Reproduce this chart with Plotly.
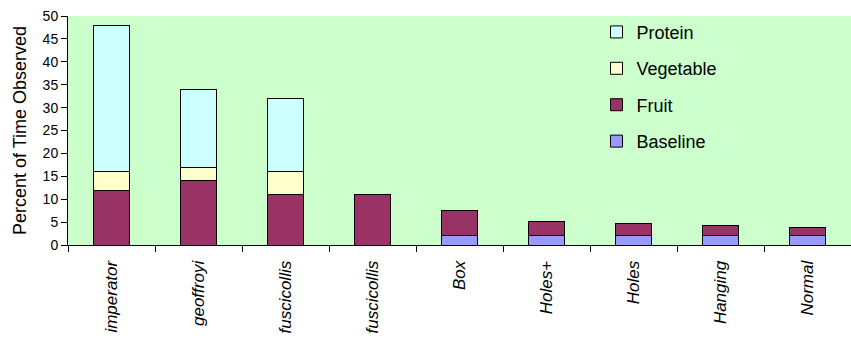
import plotly.graph_objects as go

categories = ["imperator", "geoffroyi", "fuscicollis", "fuscicollis", "Box", "Holes+", "Holes", "Hanging", "Normal"]
baseline = [0, 0, 0, 0, 2, 2, 2, 2, 2]
fruit = [12, 14, 11, 11, 5.6, 3.2, 2.6, 2.3, 1.9]
vegetable = [4, 3, 5, 0, 0, 0, 0, 0, 0]
protein = [32, 17, 16, 0, 0, 0, 0, 0, 0]
y_ticks = [0, 5, 10, 15, 20, 25, 30, 35, 40, 45, 50]

series = [("Baseline", baseline, "#9999FF", 4), ("Fruit", fruit, "#993366", 3),
          ("Vegetable", vegetable, "#FFFFCC", 2), ("Protein", protein, "#CCFFFF", 1)]

xs = list(range(len(categories)))
fig = go.Figure()
for name, vals, col, rank in series:
    fig.add_trace(go.Bar(x=xs, y=vals, name=name, legendgroup=name, legendrank=rank,
                         marker=dict(color=col, line=dict(color="black", width=1))))

FONT = "Liberation Sans, Arial, sans-serif"
fig.update_layout(
    width=851, height=347,
    margin=dict(l=68, r=0, t=16, b=102),
    barmode="stack", bargap=0.58,
    plot_bgcolor="#CCFFCC", paper_bgcolor="white",
    font=dict(family=FONT, color="black", size=14),
    legend=dict(x=0.675, y=1.01, xanchor="left", yanchor="top",
                traceorder="grouped", tracegroupgap=10,
                bgcolor="rgba(0,0,0,0)", font=dict(size=18)),
    xaxis=dict(range=[-0.5, len(categories) - 0.5], tickmode="array", tickvals=xs,
               ticktext=["<i>%s</i>" % c for c in categories], tickangle=-90,
               ticks="", showgrid=False, zeroline=False,
               showline=True, linecolor="black", linewidth=1,
               tickfont=dict(size=17), ticklabelstandoff=8,
               minor=dict(ticks="outside", tick0=-0.5, dtick=1, ticklen=6,
                          tickcolor="black", showgrid=False)),
    yaxis=dict(range=[0, 50], tickmode="array", tickvals=y_ticks,
               ticks="outside", ticklen=6, tickcolor="black",
               showgrid=False, zeroline=False,
               showline=True, linecolor="black", linewidth=1,
               tickfont=dict(size=14),
               title=dict(text="Percent of Time Observed", font=dict(size=18), standoff=11)),
)
fig.write_html("out.html")
